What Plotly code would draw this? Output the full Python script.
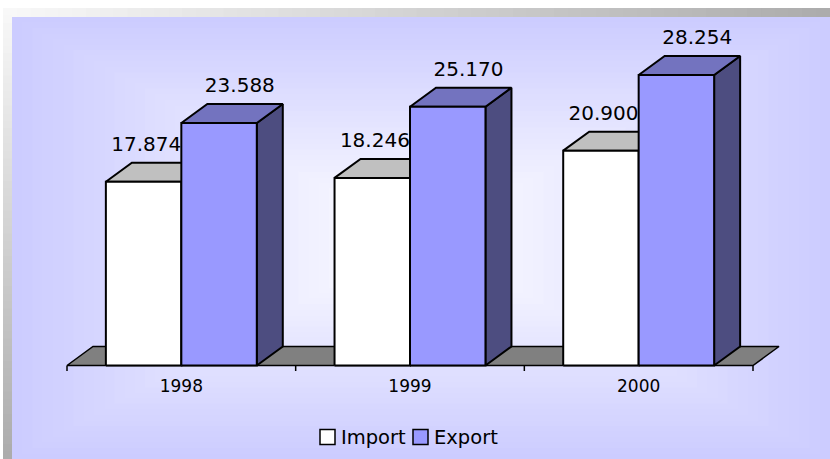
import plotly.graph_objects as go

# ---------------- data ----------------
categories = ["1998", "1999", "2000"]
import_vals = [17.874, 18.246, 20.900]
export_vals = [23.588, 25.170, 28.254]
series_names = ["Import", "Export"]

# ---------------- styles ----------------
W, H = 830, 459
FONT = "DejaVu Sans"
STYLE = {
    "Import": dict(front="#FFFFFF", top="#C0C0C0", side="#808080"),
    "Export": dict(front="#9999FF", top="#7373BF", side="#4D4D80"),
}
FLOOR_COLOR = "#808080"

# pixel geometry of the plotting frame (layout parameters)
X0_PX, X1_PX = 67, 753          # floor front edge, left/right
PX_PER_X = (X1_PX - X0_PX) / len(categories)
Y0_PX = 365.5                   # value 0
PX_PER_Y = 10.28
DEPTH_DX = 26 / PX_PER_X
DEPTH_DY = 19 / PX_PER_Y
BAR_W = 0.33
LABEL_DY = 36 / PX_PER_Y

x_range = [-X0_PX / PX_PER_X, (W - X0_PX) / PX_PER_X]
y_range = [-(H - Y0_PX) / PX_PER_Y, Y0_PX / PX_PER_Y]

fig = go.Figure()


def poly(xs, ys, color, width=2):
    fig.add_trace(go.Scatter(
        x=xs + [xs[0]], y=ys + [ys[0]], mode="lines", fill="toself",
        fillcolor=color, line=dict(color="black", width=width),
        hoverinfo="skip", showlegend=False))


# floor
n = len(categories)
poly([0, DEPTH_DX, n + DEPTH_DX, n], [0, DEPTH_DY, DEPTH_DY, 0], FLOOR_COLOR, 1.5)

# tick marks on category boundaries
tx, ty = [], []
for k in range(n + 1):
    tx += [k, k, None]
    ty += [0, -5.5 / PX_PER_Y, None]
fig.add_trace(go.Scatter(x=tx, y=ty, mode="lines", line=dict(color="black", width=1.5),
                         hoverinfo="skip", showlegend=False))

# 3D bars
label_x, label_y, label_t = [], [], []
for i, cat in enumerate(categories):
    for s, (name, vals) in enumerate(zip(series_names, [import_vals, export_vals])):
        v = vals[i]
        st = STYLE[name]
        x0 = i + 0.5 + (s - 1) * BAR_W
        x1 = x0 + BAR_W
        poly([x1, x1 + DEPTH_DX, x1 + DEPTH_DX, x1], [0, DEPTH_DY, v + DEPTH_DY, v], st["side"])
        poly([x0, x0 + DEPTH_DX, x1 + DEPTH_DX, x1], [v, v + DEPTH_DY, v + DEPTH_DY, v], st["top"])
        poly([x0, x0, x1, x1], [0, v, v, 0], st["front"])
        label_x.append((x0 + x1) / 2 + (0.8 * DEPTH_DX if s == 1 else 0.1 * DEPTH_DX))
        label_y.append(v + LABEL_DY)
        label_t.append(f"{v:.3f}")

fig.add_trace(go.Scatter(x=label_x, y=label_y, text=label_t, mode="text",
                         textposition="middle center",
                         textfont=dict(family=FONT, size=20, color="black"),
                         hoverinfo="skip", showlegend=False))

# category labels
fig.add_trace(go.Scatter(x=[i + 0.5 for i in range(n)], y=[-22.3 / PX_PER_Y] * n,
                         text=categories, mode="text", textposition="middle center",
                         textfont=dict(family=FONT, size=17, color="black"),
                         hoverinfo="skip", showlegend=False))

# ---------------- background decoration ----------------
shapes = []
annotations = []


def px_rect(x0, y0, x1, y1, color, line=None):
    shapes.append(dict(type="rect", xref="paper", yref="paper", layer="below" if line is None else "above",
                       x0=x0 / W, x1=x1 / W, y0=1 - y1 / H, y1=1 - y0 / H,
                       fillcolor=color, line=line or dict(width=0)))


def mix(c0, c1, t):
    return "rgb({},{},{})".format(*[round(a + (b - a) * t) for a, b in zip(c0, c1)])


# shadow stripes
NS = 60
for k in range(NS):
    t = k / (NS - 1)
    c = mix((248, 248, 248), (172, 172, 172), t)
    xa = 3 + (830 - 3) * k / NS
    xb = 3 + (830 - 3) * (k + 1) / NS + 1
    px_rect(xa, 8, xb, 17, c)
    ya = 8 + (459 - 8) * k / NS
    yb = 8 + (459 - 8) * (k + 1) / NS + 1
    px_rect(3, ya, 12, yb, c)

# panel gradient (rectangular from centre)
PL, PR, PT, PB = 12, 830, 17, 459
cx, cy = (PL + PR) / 2, (PT + PB) / 2
hw, hh = (PR - PL) / 2, (PB - PT) / 2
NB = 40
for k in range(NB):
    t = 1 - k / NB
    c = mix((204, 204, 255), (255, 255, 255), 1 - t)
    px_rect(cx - hw * t, cy - hh * t, cx + hw * t, cy + hh * t, c)

# legend (manual, boxes + text)
LEG_Y = 437
legend_box_x = [320, 413]
for name, bx in zip(series_names, legend_box_x):
    px_rect(bx, LEG_Y - 7.5, bx + 15, LEG_Y + 7.5, STYLE[name]["front"],
            line=dict(color="black", width=1.5))
    annotations.append(dict(text=name, xref="paper", yref="paper", x=(bx + 19) / W,
                            y=1 - LEG_Y / H, xanchor="left", yanchor="middle", showarrow=False,
                            font=dict(family=FONT, size=19.5, color="black")))

fig.update_layout(
    width=W, height=H,
    margin=dict(l=0, r=0, t=0, b=0),
    paper_bgcolor="white", plot_bgcolor="rgba(0,0,0,0)",
    xaxis=dict(range=x_range, visible=False, fixedrange=True),
    yaxis=dict(range=y_range, visible=False, fixedrange=True),
    shapes=shapes,
    annotations=annotations,
    showlegend=False,
    font=dict(family=FONT),
)

fig.write_html("out.html", config={"displayModeBar": False},
               post_script="document.body.style.margin='0';")
